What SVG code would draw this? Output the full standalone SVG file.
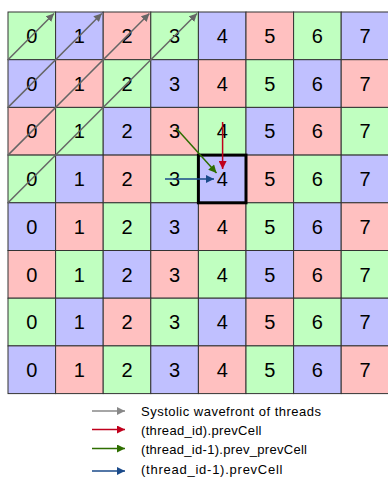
<svg xmlns="http://www.w3.org/2000/svg" width="388" height="477" viewBox="0 0 388 477">
<style>
.g{fill:#c0ffc0}.b{fill:#c0c0ff}.p{fill:#ffc0c0}
.cell rect{stroke:#333;stroke-width:1}
.cell text,.lg{font-family:"Liberation Sans",Arial,sans-serif;fill:#000}
.cell text{font-size:20px;text-anchor:middle}
.lg{font-size:13px}
</style>
<defs>
<marker id="ag" viewBox="0 0 10 10" refX="10" refY="5" markerWidth="8" markerHeight="8" markerUnits="userSpaceOnUse" orient="auto"><path d="M0,0L10,5L0,10z" fill="#666"/></marker>
<marker id="al" viewBox="0 0 10 10" refX="10" refY="5" markerWidth="9" markerHeight="8" markerUnits="userSpaceOnUse" orient="auto"><path d="M0,0L10,5L0,10z" fill="#888"/></marker>
<marker id="ar" viewBox="0 0 10 10" refX="10" refY="5" markerWidth="9" markerHeight="8" markerUnits="userSpaceOnUse" orient="auto"><path d="M0,0L10,5L0,10z" fill="#c0001c"/></marker>
<marker id="agr" viewBox="0 0 10 10" refX="10" refY="5" markerWidth="9" markerHeight="8" markerUnits="userSpaceOnUse" orient="auto"><path d="M0,0L10,5L0,10z" fill="#2e6e00"/></marker>
<marker id="ab" viewBox="0 0 10 10" refX="10" refY="5" markerWidth="9" markerHeight="8" markerUnits="userSpaceOnUse" orient="auto"><path d="M0,0L10,5L0,10z" fill="#1a4a8a"/></marker>
</defs>
<g id="cells">
<g id="c0_0" class="cell"><rect class="g" x="8" y="12" width="47.6" height="47.7"/><text x="31.8" y="43.05">0</text></g>
<g id="c0_1" class="cell"><rect class="b" x="55.6" y="12" width="47.6" height="47.7"/><text x="79.4" y="43.05">1</text></g>
<g id="c0_2" class="cell"><rect class="p" x="103.2" y="12" width="47.6" height="47.7"/><text x="127" y="43.05">2</text></g>
<g id="c0_3" class="cell"><rect class="g" x="150.8" y="12" width="47.6" height="47.7"/><text x="174.6" y="43.05">3</text></g>
<g id="c0_4" class="cell"><rect class="b" x="198.4" y="12" width="47.6" height="47.7"/><text x="222.2" y="43.05">4</text></g>
<g id="c0_5" class="cell"><rect class="p" x="246" y="12" width="47.6" height="47.7"/><text x="269.8" y="43.05">5</text></g>
<g id="c0_6" class="cell"><rect class="g" x="293.6" y="12" width="47.6" height="47.7"/><text x="317.4" y="43.05">6</text></g>
<g id="c0_7" class="cell"><rect class="b" x="341.2" y="12" width="47.6" height="47.7"/><text x="365" y="43.05">7</text></g>

<g id="c1_0" class="cell"><rect class="b" x="8" y="59.7" width="47.6" height="47.7"/><text x="31.8" y="90.75">0</text></g>
<g id="c1_1" class="cell"><rect class="p" x="55.6" y="59.7" width="47.6" height="47.7"/><text x="79.4" y="90.75">1</text></g>
<g id="c1_2" class="cell"><rect class="g" x="103.2" y="59.7" width="47.6" height="47.7"/><text x="127" y="90.75">2</text></g>
<g id="c1_3" class="cell"><rect class="b" x="150.8" y="59.7" width="47.6" height="47.7"/><text x="174.6" y="90.75">3</text></g>
<g id="c1_4" class="cell"><rect class="p" x="198.4" y="59.7" width="47.6" height="47.7"/><text x="222.2" y="90.75">4</text></g>
<g id="c1_5" class="cell"><rect class="g" x="246" y="59.7" width="47.6" height="47.7"/><text x="269.8" y="90.75">5</text></g>
<g id="c1_6" class="cell"><rect class="b" x="293.6" y="59.7" width="47.6" height="47.7"/><text x="317.4" y="90.75">6</text></g>
<g id="c1_7" class="cell"><rect class="p" x="341.2" y="59.7" width="47.6" height="47.7"/><text x="365" y="90.75">7</text></g>

<g id="c2_0" class="cell"><rect class="p" x="8" y="107.4" width="47.6" height="47.7"/><text x="31.8" y="138.45">0</text></g>
<g id="c2_1" class="cell"><rect class="g" x="55.6" y="107.4" width="47.6" height="47.7"/><text x="79.4" y="138.45">1</text></g>
<g id="c2_2" class="cell"><rect class="b" x="103.2" y="107.4" width="47.6" height="47.7"/><text x="127" y="138.45">2</text></g>
<g id="c2_3" class="cell"><rect class="p" x="150.8" y="107.4" width="47.6" height="47.7"/><text x="174.6" y="138.45">3</text></g>
<g id="c2_4" class="cell"><rect class="g" x="198.4" y="107.4" width="47.6" height="47.7"/><text x="222.2" y="138.45">4</text></g>
<g id="c2_5" class="cell"><rect class="b" x="246" y="107.4" width="47.6" height="47.7"/><text x="269.8" y="138.45">5</text></g>
<g id="c2_6" class="cell"><rect class="p" x="293.6" y="107.4" width="47.6" height="47.7"/><text x="317.4" y="138.45">6</text></g>
<g id="c2_7" class="cell"><rect class="g" x="341.2" y="107.4" width="47.6" height="47.7"/><text x="365" y="138.45">7</text></g>

<g id="c3_0" class="cell"><rect class="g" x="8" y="155.1" width="47.6" height="47.7"/><text x="31.8" y="186.15">0</text></g>
<g id="c3_1" class="cell"><rect class="b" x="55.6" y="155.1" width="47.6" height="47.7"/><text x="79.4" y="186.15">1</text></g>
<g id="c3_2" class="cell"><rect class="p" x="103.2" y="155.1" width="47.6" height="47.7"/><text x="127" y="186.15">2</text></g>
<g id="c3_3" class="cell"><rect class="g" x="150.8" y="155.1" width="47.6" height="47.7"/><text x="174.6" y="186.15">3</text></g>
<g id="c3_5" class="cell"><rect class="p" x="246" y="155.1" width="47.6" height="47.7"/><text x="269.8" y="186.15">5</text></g>
<g id="c3_6" class="cell"><rect class="g" x="293.6" y="155.1" width="47.6" height="47.7"/><text x="317.4" y="186.15">6</text></g>
<g id="c3_7" class="cell"><rect class="b" x="341.2" y="155.1" width="47.6" height="47.7"/><text x="365" y="186.15">7</text></g>

<g id="c4_0" class="cell"><rect class="b" x="8" y="202.8" width="47.6" height="47.7"/><text x="31.8" y="233.85">0</text></g>
<g id="c4_1" class="cell"><rect class="p" x="55.6" y="202.8" width="47.6" height="47.7"/><text x="79.4" y="233.85">1</text></g>
<g id="c4_2" class="cell"><rect class="g" x="103.2" y="202.8" width="47.6" height="47.7"/><text x="127" y="233.85">2</text></g>
<g id="c4_3" class="cell"><rect class="b" x="150.8" y="202.8" width="47.6" height="47.7"/><text x="174.6" y="233.85">3</text></g>
<g id="c4_4" class="cell"><rect class="p" x="198.4" y="202.8" width="47.6" height="47.7"/><text x="222.2" y="233.85">4</text></g>
<g id="c4_5" class="cell"><rect class="g" x="246" y="202.8" width="47.6" height="47.7"/><text x="269.8" y="233.85">5</text></g>
<g id="c4_6" class="cell"><rect class="b" x="293.6" y="202.8" width="47.6" height="47.7"/><text x="317.4" y="233.85">6</text></g>
<g id="c4_7" class="cell"><rect class="p" x="341.2" y="202.8" width="47.6" height="47.7"/><text x="365" y="233.85">7</text></g>

<g id="c5_0" class="cell"><rect class="p" x="8" y="250.5" width="47.6" height="47.7"/><text x="31.8" y="281.55">0</text></g>
<g id="c5_1" class="cell"><rect class="g" x="55.6" y="250.5" width="47.6" height="47.7"/><text x="79.4" y="281.55">1</text></g>
<g id="c5_2" class="cell"><rect class="b" x="103.2" y="250.5" width="47.6" height="47.7"/><text x="127" y="281.55">2</text></g>
<g id="c5_3" class="cell"><rect class="p" x="150.8" y="250.5" width="47.6" height="47.7"/><text x="174.6" y="281.55">3</text></g>
<g id="c5_4" class="cell"><rect class="g" x="198.4" y="250.5" width="47.6" height="47.7"/><text x="222.2" y="281.55">4</text></g>
<g id="c5_5" class="cell"><rect class="b" x="246" y="250.5" width="47.6" height="47.7"/><text x="269.8" y="281.55">5</text></g>
<g id="c5_6" class="cell"><rect class="p" x="293.6" y="250.5" width="47.6" height="47.7"/><text x="317.4" y="281.55">6</text></g>
<g id="c5_7" class="cell"><rect class="g" x="341.2" y="250.5" width="47.6" height="47.7"/><text x="365" y="281.55">7</text></g>

<g id="c6_0" class="cell"><rect class="g" x="8" y="298.2" width="47.6" height="47.7"/><text x="31.8" y="329.25">0</text></g>
<g id="c6_1" class="cell"><rect class="b" x="55.6" y="298.2" width="47.6" height="47.7"/><text x="79.4" y="329.25">1</text></g>
<g id="c6_2" class="cell"><rect class="p" x="103.2" y="298.2" width="47.6" height="47.7"/><text x="127" y="329.25">2</text></g>
<g id="c6_3" class="cell"><rect class="g" x="150.8" y="298.2" width="47.6" height="47.7"/><text x="174.6" y="329.25">3</text></g>
<g id="c6_4" class="cell"><rect class="b" x="198.4" y="298.2" width="47.6" height="47.7"/><text x="222.2" y="329.25">4</text></g>
<g id="c6_5" class="cell"><rect class="p" x="246" y="298.2" width="47.6" height="47.7"/><text x="269.8" y="329.25">5</text></g>
<g id="c6_6" class="cell"><rect class="g" x="293.6" y="298.2" width="47.6" height="47.7"/><text x="317.4" y="329.25">6</text></g>
<g id="c6_7" class="cell"><rect class="b" x="341.2" y="298.2" width="47.6" height="47.7"/><text x="365" y="329.25">7</text></g>

<g id="c7_0" class="cell"><rect class="b" x="8" y="345.9" width="47.6" height="47.7"/><text x="31.8" y="376.95">0</text></g>
<g id="c7_1" class="cell"><rect class="p" x="55.6" y="345.9" width="47.6" height="47.7"/><text x="79.4" y="376.95">1</text></g>
<g id="c7_2" class="cell"><rect class="g" x="103.2" y="345.9" width="47.6" height="47.7"/><text x="127" y="376.95">2</text></g>
<g id="c7_3" class="cell"><rect class="b" x="150.8" y="345.9" width="47.6" height="47.7"/><text x="174.6" y="376.95">3</text></g>
<g id="c7_4" class="cell"><rect class="p" x="198.4" y="345.9" width="47.6" height="47.7"/><text x="222.2" y="376.95">4</text></g>
<g id="c7_5" class="cell"><rect class="g" x="246" y="345.9" width="47.6" height="47.7"/><text x="269.8" y="376.95">5</text></g>
<g id="c7_6" class="cell"><rect class="b" x="293.6" y="345.9" width="47.6" height="47.7"/><text x="317.4" y="376.95">6</text></g>
<g id="c7_7" class="cell"><rect class="p" x="341.2" y="345.9" width="47.6" height="47.7"/><text x="365" y="376.95">7</text></g>

<g id="c3_4" class="cell"><rect class="b" x="198.4" y="155.1" width="47.6" height="47.7" style="stroke:#000;stroke-width:3"/><text x="222.2" y="186.15">4</text></g>
</g>
<g id="connectors" fill="none">
<line x1="8" y1="59.7" x2="54" y2="13.5" stroke="#666" stroke-width="1.5" marker-end="url(#ag)"/>
<line x1="8" y1="107.4" x2="101.8" y2="13.5" stroke="#666" stroke-width="1.5" marker-end="url(#ag)"/>
<line x1="8" y1="155.1" x2="149.4" y2="13.5" stroke="#666" stroke-width="1.5" marker-end="url(#ag)"/>
<line x1="8" y1="202.8" x2="197" y2="13.5" stroke="#666" stroke-width="1.5" marker-end="url(#ag)"/>
<line x1="222.6" y1="122" x2="222.6" y2="169" stroke="#c0001c" stroke-width="1.5" marker-end="url(#ar)"/>
<line x1="176" y1="128" x2="216.5" y2="173" stroke="#2e6e00" stroke-width="1.5" marker-end="url(#agr)"/>
<line x1="165" y1="179" x2="214" y2="179" stroke="#1a4a8a" stroke-width="1.5" marker-end="url(#ab)"/>
</g>
<g id="legend">
<line x1="92" y1="411" x2="125" y2="411" stroke="#888" stroke-width="1.5" marker-end="url(#al)"/>
<line x1="92" y1="429.5" x2="125" y2="429.5" stroke="#c0001c" stroke-width="1.5" marker-end="url(#ar)"/>
<line x1="92" y1="448.5" x2="125" y2="448.5" stroke="#2e6e00" stroke-width="1.5" marker-end="url(#agr)"/>
<line x1="92" y1="471" x2="125" y2="471" stroke="#1a4a8a" stroke-width="1.5" marker-end="url(#ab)"/>
<text class="lg" x="141" y="416" textLength="180" lengthAdjust="spacing">Systolic wavefront of threads</text>
<text class="lg" x="141" y="434.5" textLength="120.5" lengthAdjust="spacing">(thread_id).prevCell</text>
<text class="lg" x="141" y="453.5" textLength="166" lengthAdjust="spacing">(thread_id-1).prev_prevCell</text>
<text class="lg" x="141" y="474" textLength="141.5" lengthAdjust="spacing">(thread_id-1).prevCell</text>
</g>
</svg>
